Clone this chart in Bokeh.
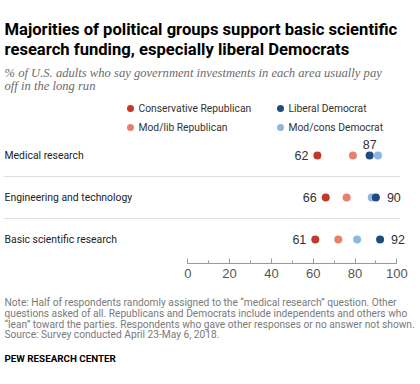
import numpy as np
from bokeh.plotting import figure
from bokeh.layouts import column
from bokeh.models import Range1d, LinearAxis, FixedTicker
from bokeh.core.properties import value
from bokeh.embed import file_html
from bokeh.resources import INLINE

# ---------------- data ----------------
categories = ["Medical research", "Engineering and technology", "Basic scientific research"]
series_names = ["Conservative Republican", "Mod/lib Republican", "Liberal Democrat", "Mod/cons Democrat"]
cons_rep = [62, 66, 61]
mod_rep = [79, 76, 72]
lib_dem = [87, 90, 92]
mod_dem = [91, 88, 81]
tick_values = [0, 20, 40, 60, 80, 100]

title_lines = ["Majorities of political groups support basic scientific",
               "research funding, especially liberal Democrats"]
subtitle_lines = ["% of U.S. adults who say government investments in each area usually pay",
                  "off in the long run"]
note_lines = ["Note: Half of respondents randomly assigned to the \u201cmedical research\u201d question. Other",
              "questions asked of all. Republicans and Democrats include independents and others who",
              "\u201clean\u201d toward the parties. Respondents who gave other responses or no answer not shown.",
              "Source: Survey conducted April 23-May 6, 2018."]
source_label = "PEW RESEARCH CENTER"

# ---------------- styles ----------------
C_CONS = "#bf3a2b"
C_MODR = "#e8806f"
C_LIB = "#1f4b80"
C_MODD = "#8fb5e5"
colors = [C_CONS, C_MODR, C_LIB, C_MODD]
W = 420
SANS = "Roboto"
SERIF = "'Liberation Serif', 'DejaVu Serif', serif"
NUM = "Liberation Sans"

def base_fig(h, xr, yr, fill="white"):
    f = figure(width=W, height=h, x_range=xr, y_range=yr, output_backend="svg",
               toolbar_location=None, min_border=0)
    f.axis.visible = False
    f.grid.visible = False
    f.outline_line_color = None
    f.background_fill_color = fill
    f.border_fill_color = fill
    return f

def band(h, fill):
    return base_fig(h, Range1d(0, 1), Range1d(0, 1), fill)

# ---------------- header (pixel layout; page top of header = 4) ----------------
HH = 130
TOP = 4
hdr = base_fig(HH, Range1d(0, W), Range1d(0, HH))
def hy(v):  # page pixel from top -> y coordinate
    return [HH - (t - TOP) for t in v]
hdr.text(x=[4, 4], y=hy([29, 49]), text=title_lines, text_font=value(SANS),
         text_font_style="bold", text_font_size="16.6px", text_color="#000000",
         text_baseline="alphabetic")
hdr.text(x=[4, 4], y=hy([72, 85.5]), text=subtitle_lines, text_font=value(SERIF),
         text_font_style="italic", text_font_size="12.6px", text_color="#6b6b6b",
         text_baseline="alphabetic")
leg_x = [130, 130, 280, 280]
leg_y = hy([108, 127, 108, 127])
hdr.scatter(x=leg_x, y=leg_y, size=7, color=colors, line_color=None)
hdr.text(x=[v + 8 for v in leg_x], y=leg_y, text=series_names, text_font=value(SANS),
         text_font_size="10.3px", text_color="#333333", text_baseline="middle")

# ---------------- main ----------------
MH = 156
scale = 2.09
x0_local = 187.3
xr = Range1d(-x0_local / scale, (W - x0_local) / scale)
yr = Range1d(-0.571, 2.5)
p = base_fig(MH, xr, yr)
p.min_border_bottom = 27
n = len(categories)
ys = list(np.arange(n)[::-1].astype(float))  # top row first
label_x = xr.start + 4 / scale

# separators
sep_y = [ys[i] - 0.5 for i in range(n - 1)]
p.segment(x0=[label_x] * len(sep_y), x1=[101.8] * len(sep_y), y0=sep_y, y1=sep_y,
          line_color="#bdbdbd", line_width=1, line_dash="1 1")

# category labels
p.text(x=[label_x] * n, y=ys, text=categories, text_font=value(SANS),
       text_font_size="10.4px", text_color="#222222", text_baseline="middle")

for vals, c in zip([cons_rep, mod_rep, mod_dem, lib_dem], [C_CONS, C_MODR, C_MODD, C_LIB]):
    p.scatter(x=vals, y=ys, size=8, color=c, line_color=None)

# value labels
p.text(x=cons_rep, y=ys, text=[str(v) for v in cons_rep], x_offset=-9,
       text_align="right", text_baseline="middle", text_font=value(NUM),
       text_font_size="12.5px", text_color="#333333")
p.text(x=lib_dem[:1], y=ys[:1], text=[str(lib_dem[0])], y_offset=-11,
       text_align="center", text_baseline="middle", text_font=value(NUM),
       text_font_size="12.5px", text_color="#333333")
p.text(x=lib_dem[1:], y=ys[1:], text=[str(v) for v in lib_dem[1:]], x_offset=11,
       text_align="left", text_baseline="middle", text_font=value(NUM),
       text_font_size="12.5px", text_color="#333333")

ax = LinearAxis(ticker=FixedTicker(ticks=tick_values, minor_ticks=list(range(0, 101, 10))),
                bounds=(0, 100))
ax.axis_line_color = "#9a9a9a"
ax.major_tick_line_color = "#9a9a9a"
ax.minor_tick_line_color = "#9a9a9a"
ax.major_tick_in = 5
ax.major_tick_out = 0
ax.minor_tick_in = 3
ax.minor_tick_out = 0
ax.major_label_standoff = 5
ax.major_label_text_font = NUM
ax.major_label_text_font_size = "13px"
ax.major_label_text_color = "#555555"
p.add_layout(ax, "below")

# ---------------- footer (pixel layout, measured from its top) ----------------
FH = 87
ftr = base_fig(FH, Range1d(0, W), Range1d(0, FH))
def fy(v):
    return [FH - t for t in v]
ftr.text(x=[4] * len(note_lines), y=fy([12, 23, 33.5, 44]), text=note_lines,
         text_font=value(SANS), text_font_size="10.2px", text_color="#7a7a7a",
         text_baseline="middle")
ftr.text(x=[4], y=fy([68]), text=[source_label], text_font=value(SANS),
         text_font_style="bold", text_font_size="9.8px", text_color="#000000",
         text_baseline="middle")

layout = column(band(2, "white"), band(2, "black"), hdr, p, ftr,
                band(2, "black"), band(5, "white"), spacing=0)
open("out.html", "w").write(file_html(layout, INLINE))
